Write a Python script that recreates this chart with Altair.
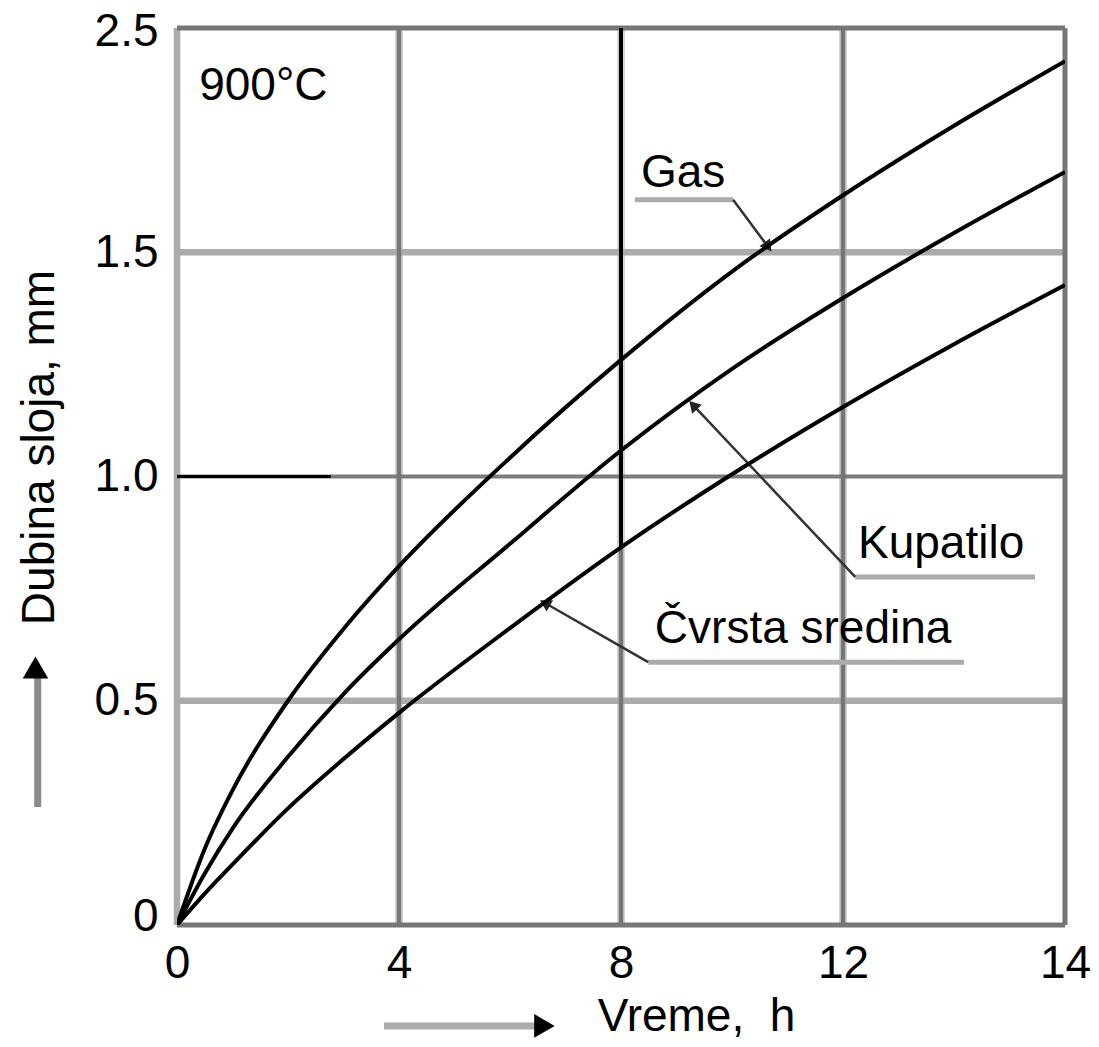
import altair as alt
import pandas as pd

# ---------------- data ----------------
time_h = [0, 0.5, 1, 2, 3, 4, 6, 8, 10, 12, 14, 16]
gas = [0, 0.17, 0.30, 0.50, 0.66, 0.80, 1.042, 1.26, 1.457, 1.627, 1.782, 1.926]
kupatilo = [0, 0.115, 0.215, 0.375, 0.515, 0.637, 0.85, 1.058, 1.24, 1.398, 1.543, 1.679]
cvrsta = [0, 0.07, 0.135, 0.26, 0.37, 0.473, 0.662, 0.842, 1.005, 1.155, 1.295, 1.427]
series_names = ["Gas", "Kupatilo", "Čvrsta sredina"]

x_ticks = [0, 4, 8, 12, 16]
x_tick_labels = ["0", "4", "8", "12", "14"]
y_ticks = [0, 0.5, 1.0, 1.5, 2.0]
y_tick_labels = ["0", "0.5", "1.0", "1.5", "2.5"]

x_grid = [4, 8, 12]
y_grid = [0.5, 1.0, 1.5]

FONT = "Liberation Sans"
FS = 46
XD = [0, 16]
YD = [0, 2]


def label_expr(values, labels):
    expr = "datum.label"
    for v, l in zip(values, labels):
        expr = f"abs(datum.value - {v}) < 1e-6 ? '{l}' : ({expr})"
    return expr


x_axis = alt.Axis(
    values=x_ticks, labelExpr=label_expr(x_ticks, x_tick_labels),
    grid=False, domain=False, ticks=False, tickSize=0,
    labelFont=FONT, labelFontSize=FS, labelColor="black",
    labelPadding=16, labelFlush=False, labelOverlap=False,
    title="Vreme,\u00a0 h", titleFont=FONT, titleFontSize=FS,
    titleFontWeight="normal", titleColor="black",
    titleX=519, titleY=105, titleAlign="center", titleBaseline="alphabetic",
)
y_axis = alt.Axis(
    values=y_ticks, labelExpr=label_expr(y_ticks, y_tick_labels),
    grid=False, domain=False, ticks=False, tickSize=0,
    labelFont=FONT, labelFontSize=FS, labelColor="black",
    labelPadding=19, labelFlush=False, labelOverlap=False,
    labelOffset={"condition": [{"test": "datum.value == 0", "value": -9},
                               {"test": "datum.value == 2", "value": 3}],
                 "value": 0},
    title="Dubina sloja, mm", titleFont=FONT, titleFontSize=FS,
    titleFontWeight="normal", titleColor="black",
    titleAngle=270, titleX=-124, titleY=419,
    titleAlign="center", titleBaseline="alphabetic",
)


def X(field, **kw):
    return alt.X(field, type="quantitative",
                 scale=alt.Scale(domain=XD, nice=False, zero=False), axis=x_axis, **kw)


def Y(field, **kw):
    return alt.Y(field, type="quantitative",
                 scale=alt.Scale(domain=YD, nice=False, zero=False), axis=y_axis, **kw)


# ---------------- curves ----------------
rows = []
for name, vals in zip(series_names, [gas, kupatilo, cvrsta]):
    for t, v in zip(time_h, vals):
        rows.append({"t": t, "v": v, "s": name})
curves_df = pd.DataFrame(rows)

curves = alt.Chart(curves_df).mark_line(
    interpolate="monotone", color="black", strokeWidth=4, clip=True
).encode(x=X("t"), y=Y("v"), detail="s:N")

# ---------------- grid / frame ----------------
cv_at_8 = cvrsta[time_h.index(8)]

vgrid_df = pd.DataFrame({"x": x_grid, "y0": [0] * 3, "y1": [2] * 3})
vgrid_light = alt.Chart(vgrid_df).mark_rule(color="#d4d4d4", strokeWidth=8).encode(
    x=X("x"), y=Y("y0"), y2="y1")
vgrid_df2 = pd.DataFrame({"x": [4, 8, 12], "y0": [0, 0, 0], "y1": [2, cv_at_8, 2]})
vgrid_dark = alt.Chart(vgrid_df2).mark_rule(color="#767676", strokeWidth=4.5).encode(
    x=X("x"), y=Y("y0"), y2="y1")
vblack = alt.Chart(pd.DataFrame({"x": [8], "y0": [cv_at_8], "y1": [2]})).mark_rule(
    color="black", strokeWidth=4).encode(x=X("x"), y=Y("y0"), y2="y1")

hgrid_light = alt.Chart(pd.DataFrame({"y": [0.5, 1.5], "x0": [0, 0], "x1": [16, 16]})).mark_rule(
    color="#ababab", strokeWidth=6.5).encode(y=Y("y"), x=X("x0"), x2="x1")
hgrid_mid = alt.Chart(pd.DataFrame({"y": [1.0], "x0": [0], "x1": [16]})).mark_rule(
    color="#7c7c7c", strokeWidth=4).encode(y=Y("y"), x=X("x0"), x2="x1")
hblack = alt.Chart(pd.DataFrame({"y": [1.0], "x0": [0], "x1": [2.77]})).mark_rule(
    color="black", strokeWidth=3).encode(y=Y("y"), x=X("x0"), x2="x1")

frame_left = alt.Chart(pd.DataFrame({"x": [0], "y0": [0], "y1": [2]})).mark_rule(
    color="#ababab", strokeWidth=6.5).encode(x=X("x"), y=Y("y0"), y2="y1")
frame_right = alt.Chart(pd.DataFrame({"x": [16], "y0": [0], "y1": [2]})).mark_rule(
    color="#767676", strokeWidth=5).encode(x=X("x"), y=Y("y0"), y2="y1")
frame_tb = alt.Chart(pd.DataFrame({"y": [0, 2], "x0": [0, 0], "x1": [16, 16]})).mark_rule(
    color="#767676", strokeWidth=5).encode(y=Y("y"), x=X("x0"), x2="x1")

# ---------------- annotations ----------------
labels_df = pd.DataFrame({
    "t": [8.36, 12.27, 8.61, 0.40],
    "v": [1.6455, 0.818, 0.629, 1.839],
    "txt": ["Gas", "Kupatilo", "Čvrsta sredina", "900°C"],
})
texts = alt.Chart(labels_df).mark_text(
    font=FONT, fontSize=FS, color="black", align="left", baseline="alphabetic"
).encode(x=X("t"), y=Y("v"), text="txt:N")

under_df = pd.DataFrame({
    "t0": [8.25, 12.22, 8.49], "t1": [10.02, 15.46, 14.18], "v": [1.617, 0.776, 0.586]})
underlines = alt.Chart(under_df).mark_rule(color="#ababab", strokeWidth=5).encode(
    x=X("t0"), x2="t1", y=Y("v"))

leader_df = pd.DataFrame({
    "t0": [10.02, 12.22, 8.49], "v0": [1.617, 0.776, 0.586],
    "t1": [10.65, 9.30, 6.63], "v1": [1.512, 1.159, 0.718],
    "ang": [143, 317, 300],
})
leaders = alt.Chart(leader_df).mark_rule(color="#333333", strokeWidth=2.5).encode(
    x=X("t0"), y=Y("v0"), x2="t1", y2="v1")
heads = alt.Chart(leader_df).mark_point(
    shape="triangle-up", filled=True, color="#222222", size=170, opacity=1
).encode(x=X("t1"), y=Y("v1"), angle=alt.Angle("ang:Q", scale=None))

# axis arrows (outside the plot area)
yarrow = alt.Chart(pd.DataFrame({"t": [-2.51], "v0": [0.263], "v1": [0.575]})).mark_rule(
    color="#8a8a8a", strokeWidth=7).encode(x=X("t"), y=Y("v0"), y2="v1")
yhead = alt.Chart(pd.DataFrame({"t": [-2.55], "v": [0.574]})).mark_point(
    shape="triangle-up", filled=True, color="black", size=650, opacity=1).encode(
    x=X("t"), y=Y("v"))
xarrow = alt.Chart(pd.DataFrame({"t0": [3.73], "t1": [6.55], "v": [-0.225]})).mark_rule(
    color="#ababab", strokeWidth=7).encode(x=X("t0"), x2="t1", y=Y("v"))
xhead = alt.Chart(pd.DataFrame({"t": [6.62], "v": [-0.225]})).mark_point(
    shape="triangle-right", filled=True, color="black", size=560, opacity=1).encode(
    x=X("t"), y=Y("v"))

chart = alt.layer(
    vgrid_light, hgrid_light, frame_left, hgrid_mid, vgrid_dark, frame_right, frame_tb,
    vblack, hblack, underlines, leaders, heads, curves, texts,
    yarrow, yhead, xarrow, xhead,
).properties(
    width=888, height=897,
    autosize=alt.AutoSizeParams(type="none"),
    padding={"left": 169, "top": 20, "right": 26, "bottom": 114},
).configure_view(stroke=None).configure(background="white")

chart.save("out.html", embed_options={"renderer": "svg", "actions": False})
